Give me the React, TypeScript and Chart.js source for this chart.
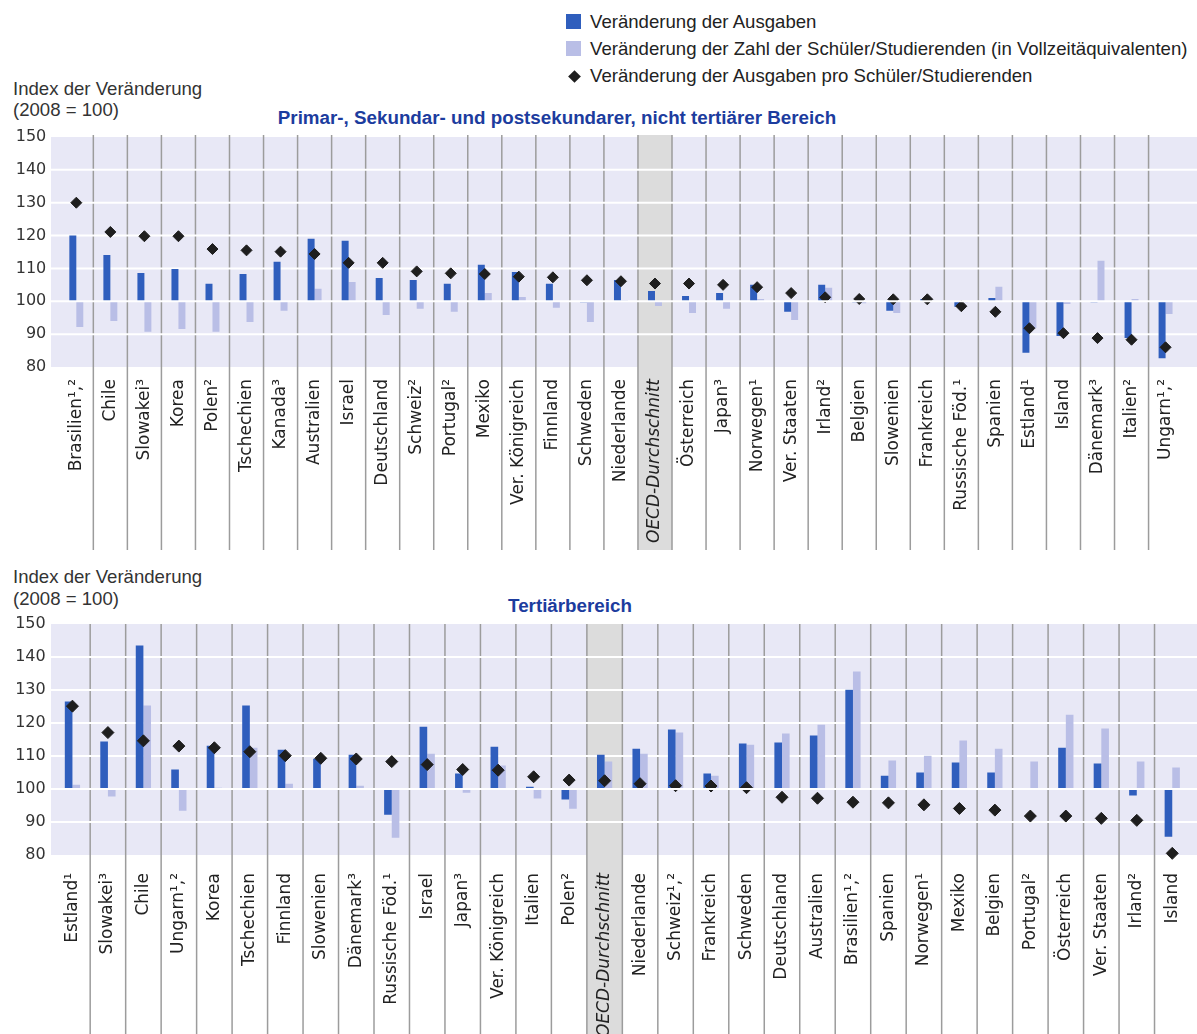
import React, { useEffect, useRef } from "react";
import { Chart, registerables } from "chart.js";

Chart.register(...registerables);

// ---------- Data: Primar-, Sekundar- und postsekundarer, nicht tertiärer Bereich ----------
const catsTop = [
  "Brasilien¹,²", "Chile", "Slowakei³", "Korea", "Polen²", "Tschechien", "Kanada³", "Australien",
  "Israel", "Deutschland", "Schweiz²", "Portugal²", "Mexiko", "Ver. Königreich", "Finnland",
  "Schweden", "Niederlande", "OECD-Durchschnitt", "Österreich", "Japan³", "Norwegen¹",
  "Ver. Staaten", "Irland²", "Belgien", "Slowenien", "Frankreich", "Russische Föd.¹", "Spanien",
  "Estland¹", "Island", "Dänemark³", "Italien²", "Ungarn¹,²",
];
const expendTop = [
  120, 114.1, 108.6, 109.8, 105.3, 108.3, 112.0, 119.0, 118.4, 107.1, 106.5, 105.3, 111.1, 108.9,
  105.3, 99.7, 106.5, 103.1, 101.6, 102.5, 105.0, 96.8, 105.0, 99.7, 97.1, 100.7, 98.3, 101.0,
  84.3, 89.4, 99.7, 88.8, 82.7,
];
const studentsTop = [
  92.2, 94.0, 90.7, 91.6, 90.7, 93.7, 97.1, 103.8, 105.9, 95.8, 97.7, 96.8, 102.5, 101.3, 98.0,
  93.7, 100.4, 98.6, 96.4, 97.7, 100.7, 94.3, 104.1, 99.4, 96.4, 100.2, 99.7, 104.4, 91.9, 99.2,
  112.3, 100.7, 96.1,
];
const perStudentTop = [
  130, 121.1, 119.8, 119.8, 115.9, 115.5, 115.1, 114.4, 111.7, 111.7, 109.1, 108.5, 108.3, 107.5,
  107.3, 106.4, 106.1, 105.4, 105.4, 105.0, 104.3, 102.5, 101.2, 100.7, 100.6, 100.6, 98.5, 96.8,
  91.8, 90.3, 88.8, 88.3, 86.0,
];

// ---------- Data: Tertiärbereich ----------
const catsBot = [
  "Estland¹", "Slowakei³", "Chile", "Ungarn¹,²", "Korea", "Tschechien", "Finnland", "Slowenien",
  "Dänemark³", "Russische Föd.¹", "Israel", "Japan³", "Ver. Königreich", "Italien", "Polen²",
  "OECD-Durchschnitt", "Niederlande", "Schweiz¹,²", "Frankreich", "Schweden", "Deutschland",
  "Australien", "Brasilien¹,²", "Spanien", "Norwegen¹", "Mexiko", "Belgien", "Portugal²",
  "Österreich", "Ver. Staaten", "Irland²", "Island",
];
const expendBot = [
  126.5, 114.4, 143.5, 105.9, 113.1, 125.3, 111.9, 109.2, 110.4, 92.2, 118.9, 104.7, 112.8, 100.7,
  96.8, 110.4, 112.2, 118.0, 104.7, 113.8, 114.1, 116.2, 130.1, 104.0, 105.0, 108.0, 105.0, 99.7,
  112.5, 107.7, 98.0, 85.5,
];
const studentsBot = [
  101.3, 97.7, 125.3, 93.4, 100.4, 112.5, 101.6, 100.1, 101.0, 85.2, 110.7, 98.9, 107.1, 97.1,
  94.0, 108.3, 110.7, 117.1, 104.0, 113.4, 116.8, 119.5, 135.6, 108.6, 110.1, 114.7, 112.2, 108.3,
  122.5, 118.3, 108.3, 106.5,
];
const perStudentBot = [
  125.1, 117.1, 114.6, 113.0, 112.5, 111.3, 110.1, 109.3, 109.1, 108.3, 107.4, 105.9, 105.7, 103.7,
  102.7, 102.5, 101.6, 101.0, 100.9, 100.4, 97.5, 97.2, 96.0, 95.8, 95.2, 94.1, 93.6, 91.8, 91.8,
  91.1, 90.5, 80.5,
];

const yMin = 80;
const yMax = 150;
const yStep = 10;
const baseValue = 100;

const legendLabels = [
  "Veränderung der Ausgaben",
  "Veränderung der Zahl der Schüler/Studierenden (in Vollzeitäquivalenten)",
  "Veränderung der Ausgaben pro Schüler/Studierenden",
];
const titleTop = "Primar-, Sekundar- und postsekundarer, nicht tertiärer Bereich";
const titleBot = "Tertiärbereich";
const axisTitle1 = "Index der Veränderung";
const axisTitle2 = "(2008 = 100)";

const BLUE = "#2f5ebd";
const LIGHT = "#b9bee6";
const PLOT_BG = "#e8e8f6";
const HI_BG = "#dcdcdc";
const SEP = "#9c9c9c";
const DIAMOND = "#1e1e1e";
const TITLE_BLUE = "#1c3c9e";

const decorPlugin = {
  id: "panelDecor",
  beforeDraw(chart: any, _args: any, opts: any) {
    const { ctx } = chart;
    const x = chart.scales.x;
    const y = chart.scales.y;
    const top = y.getPixelForValue(yMax);
    const bottom = y.getPixelForValue(yMin);
    const n = chart.data.labels.length;
    const bound = (i: number) => (x.getPixelForTick(i) + x.getPixelForTick(i + 1)) / 2;
    ctx.save();
    ctx.fillStyle = PLOT_BG;
    ctx.fillRect(opts.bgLeft, top, opts.bgRight - opts.bgLeft, bottom - top);
    const hi = opts.highlight;
    const hl = bound(hi - 1);
    const hr = bound(hi);
    ctx.fillStyle = HI_BG;
    ctx.fillRect(hl, opts.sepTop, hr - hl, opts.sepBottom - opts.sepTop);
    ctx.strokeStyle = SEP;
    ctx.lineWidth = 1.5;
    for (let i = 0; i < n - 1; i++) {
      const bx = bound(i);
      ctx.beginPath();
      ctx.moveTo(bx, opts.sepTop);
      ctx.lineTo(bx, opts.sepBottom);
      ctx.stroke();
    }
    ctx.strokeStyle = "#ffffff";
    ctx.lineWidth = 2;
    for (const t of y.ticks) {
      const v = t.value;
      if (v <= yMin || v >= yMax || v === baseValue) continue;
      const py = y.getPixelForValue(v);
      ctx.beginPath();
      ctx.moveTo(opts.bgLeft, py);
      ctx.lineTo(opts.bgRight, py);
      ctx.stroke();
    }
    ctx.restore();
  },
  afterDatasetsDraw(chart: any, _args: any, opts: any) {
    const { ctx } = chart;
    const py = chart.scales.y.getPixelForValue(baseValue);
    ctx.save();
    ctx.strokeStyle = "#ffffff";
    ctx.lineWidth = 2;
    ctx.beginPath();
    ctx.moveTo(opts.bgLeft, py);
    ctx.lineTo(opts.bgRight, py);
    ctx.stroke();
    ctx.restore();
  },
};

type Layout = {
  padTop: number;
  padRight: number;
  yWidth: number;
  xHeight: number;
  yPad: number;
  xPad: number;
  catPct: number;
  radius: number;
  highlight: number;
  sepTop: number;
  sepBottom: number;
};

function makeChart(
  canvas: HTMLCanvasElement,
  cats: string[],
  expend: number[],
  students: number[],
  per: number[],
  L: Layout
) {
  return new Chart(canvas, {
    type: "bar",
    data: {
      labels: cats,
      datasets: [
        {
          type: "line",
          label: legendLabels[2],
          data: per,
          showLine: false,
          clip: false,
          pointStyle: "rectRot",
          pointRadius: L.radius,
          pointBackgroundColor: DIAMOND,
          pointBorderColor: DIAMOND,
          pointBorderWidth: 1,
          order: 0,
        } as any,
        {
          label: legendLabels[0],
          data: expend,
          backgroundColor: BLUE,
          base: baseValue,
          categoryPercentage: L.catPct,
          barPercentage: 1,
          order: 1,
        } as any,
        {
          label: legendLabels[1],
          data: students,
          backgroundColor: LIGHT,
          base: baseValue,
          categoryPercentage: L.catPct,
          barPercentage: 1,
          order: 1,
        } as any,
      ],
    },
    options: {
      animation: false,
      responsive: false,
      maintainAspectRatio: false,
      devicePixelRatio: 1,
      layout: { padding: { top: L.padTop, right: L.padRight, bottom: 0, left: 0 } },
      plugins: {
        legend: { display: false },
        tooltip: { enabled: false },
        panelDecor: {
          bgLeft: 51,
          bgRight: 1197,
          highlight: L.highlight,
          sepTop: L.sepTop,
          sepBottom: L.sepBottom,
        },
      } as any,
      scales: {
        x: {
          type: "category",
          offset: true,
          grid: { display: false, drawTicks: false },
          border: { display: false },
          ticks: {
            autoSkip: false,
            minRotation: 90,
            maxRotation: 90,
            padding: L.xPad,
            color: "#222222",
            font: (c: any) => ({
              family: "'DejaVu Sans', sans-serif",
              size: 17,
              style: c.index === L.highlight ? "italic" : "normal",
            }),
          },
          afterFit: (s: any) => {
            s.height = L.xHeight;
            s.paddingLeft = 0;
            s.paddingRight = 0;
          },
        },
        y: {
          min: yMin,
          max: yMax,
          grid: { display: false, drawTicks: false },
          border: { display: false },
          ticks: {
            stepSize: yStep,
            padding: L.yPad,
            color: "#333333",
            font: { family: "'DejaVu Sans', sans-serif", size: 16 },
          },
          afterFit: (s: any) => {
            s.width = L.yWidth;
            s.paddingTop = 0;
            s.paddingBottom = 0;
          },
        },
      },
    } as any,
    plugins: [decorPlugin as any],
  });
}

const textBase: React.CSSProperties = {
  position: "absolute",
  whiteSpace: "nowrap",
  fontFamily: "'Liberation Sans', Arial, sans-serif",
  fontSize: 18.6,
  lineHeight: "20px",
  color: "#333333",
};

export default function App() {
  const topRef = useRef<HTMLCanvasElement | null>(null);
  const botRef = useRef<HTMLCanvasElement | null>(null);

  useEffect(() => {
    const c1 = makeChart(topRef.current!, catsTop, expendTop, studentsTop, perStudentTop, {
      padTop: 17,
      padRight: 14.4,
      yWidth: 59.3,
      xHeight: 193,
      yPad: 13,
      xPad: 12,
      catPct: 0.41,
      radius: 5.5,
      highlight: 17,
      sepTop: 15,
      sepBottom: 430,
    });
    const c2 = makeChart(botRef.current!, catsBot, expendBot, studentsBot, perStudentBot, {
      padTop: 12,
      padRight: 0.3,
      yWidth: 54.7,
      xHeight: 179,
      yPad: 9,
      xPad: 18,
      catPct: 0.43,
      radius: 6,
      highlight: 15,
      sepTop: 12,
      sepBottom: 422,
    });
    return () => {
      c1.destroy();
      c2.destroy();
    };
  }, []);

  return (
    <div
      style={{
        position: "absolute",
        left: 0,
        top: 0,
        width: 1197,
        height: 1034,
        overflow: "hidden",
        background: "#ffffff",
      }}
    >
      {/* Legend */}
      <div style={{ position: "absolute", left: 566, top: 14, width: 15, height: 15, background: BLUE }} />
      <div style={{ ...textBase, left: 590, top: 12, color: "#222" }}>{legendLabels[0]}</div>
      <div style={{ position: "absolute", left: 566, top: 41, width: 15, height: 15, background: LIGHT }} />
      <div style={{ ...textBase, left: 590, top: 39, color: "#222" }}>{legendLabels[1]}</div>
      <div
        style={{
          position: "absolute",
          left: 569.5,
          top: 71.5,
          width: 9,
          height: 9,
          background: DIAMOND,
          transform: "rotate(45deg)",
        }}
      />
      <div style={{ ...textBase, left: 590, top: 66, color: "#222" }}>{legendLabels[2]}</div>

      {/* Top panel titles */}
      <div style={{ ...textBase, left: 13, top: 79 }}>{axisTitle1}</div>
      <div style={{ ...textBase, left: 13, top: 100 }}>{axisTitle2}</div>
      <div
        style={{
          ...textBase,
          left: 557,
          top: 108,
          transform: "translateX(-50%)",
          fontWeight: "bold",
          fontSize: 18.8,
          color: TITLE_BLUE,
        }}
      >
        {titleTop}
      </div>
      <canvas
        ref={topRef}
        width={1197}
        height={440}
        style={{ position: "absolute", left: 0, top: 120, width: 1197, height: 440 }}
      />

      {/* Bottom panel titles */}
      <div style={{ ...textBase, left: 13, top: 567 }}>{axisTitle1}</div>
      <div style={{ ...textBase, left: 13, top: 589 }}>{axisTitle2}</div>
      <div
        style={{
          ...textBase,
          left: 570,
          top: 596,
          transform: "translateX(-50%)",
          fontWeight: "bold",
          fontSize: 18.8,
          color: TITLE_BLUE,
        }}
      >
        {titleBot}
      </div>
      <canvas
        ref={botRef}
        width={1197}
        height={422}
        style={{ position: "absolute", left: 0, top: 612, width: 1197, height: 422 }}
      />
    </div>
  );
}
